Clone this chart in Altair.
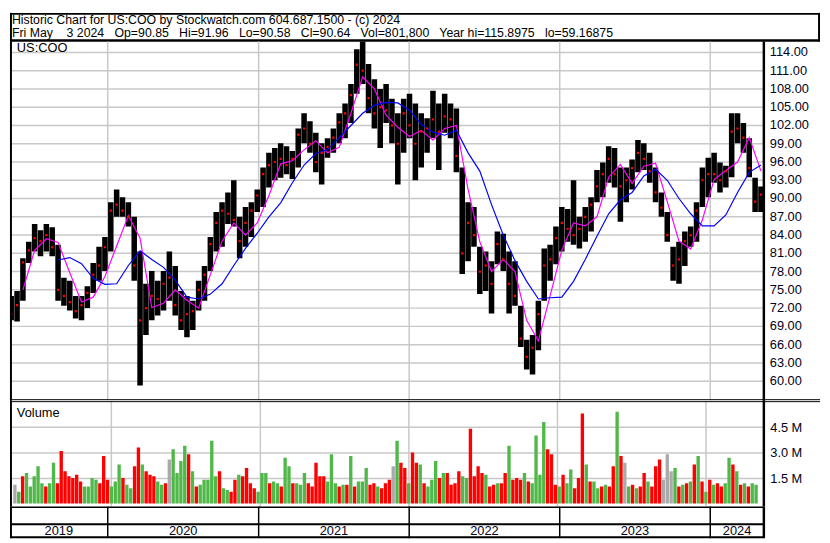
import altair as alt
import pandas as pd

# ---------------- data ----------------
# two-week price ranges, May 2019 .. May 2024
period_high = [
    74.0, 74.8, 80.2, 82.9, 85.8, 84.8, 85.8, 85.3, 82.4, 77.0,
    76.5, 74.0, 74.0, 75.6, 79.4, 82.1, 83.7, 89.4, 91.5, 90.2,
    89.4, 87.0, 81.3, 76.0, 78.1, 76.5, 78.1, 81.3, 78.9, 74.8,
    74.0, 73.2, 76.5, 78.9, 83.7, 87.8, 89.4, 91.0, 93.0, 87.0,
    88.6, 89.4, 91.5, 95.1, 97.5, 98.3, 99.1, 98.6, 97.8, 101.5,
    104.0, 102.7, 100.8, 99.1, 99.9, 101.5, 104.0, 105.6, 108.8, 114.5,
    115.9, 112.1, 109.6, 108.0, 108.8, 106.4, 104.0, 106.4, 107.2, 105.6,
    104.0, 103.2, 107.7, 105.6, 107.2, 105.6, 104.8, 95.1, 89.4, 88.6,
    82.1, 81.3, 79.7, 84.6, 84.2, 81.3, 79.7, 72.4, 66.8, 67.6,
    73.2, 81.8, 82.4, 85.4, 88.6, 88.3, 93.0, 87.0, 88.6, 90.2,
    94.7, 95.9, 98.6, 98.3, 95.1, 95.1, 96.4, 99.6, 99.1, 97.5,
    95.1, 91.0, 87.8, 82.1, 82.9, 84.6, 85.4, 89.4, 95.1, 96.7,
    97.5, 95.9, 95.4, 104.0, 104.0, 102.4, 99.9, 93.4, 91.96]
period_low = [
    70.0, 69.8, 73.2, 79.4, 81.3, 80.5, 81.3, 80.5, 73.2, 72.4,
    71.6, 70.3, 70.0, 72.0, 74.5, 76.5, 78.1, 81.3, 87.0, 87.0,
    85.4, 76.5, 59.3, 67.6, 70.0, 70.8, 71.6, 73.2, 70.8, 68.4,
    67.2, 68.4, 71.6, 73.2, 78.1, 81.3, 82.1, 85.8, 85.4, 80.2,
    82.1, 83.7, 87.8, 88.6, 91.8, 93.0, 93.4, 94.0, 93.2, 95.1,
    99.1, 97.5, 94.3, 92.3, 96.7, 97.5, 99.1, 99.9, 102.4, 107.2,
    108.8, 104.0, 101.5, 98.3, 102.4, 99.1, 92.3, 97.5, 99.9, 93.0,
    95.1, 97.5, 99.9, 94.7, 100.8, 99.9, 94.3, 77.6, 79.7, 82.1,
    74.3, 74.8, 71.1, 79.2, 78.1, 71.1, 72.4, 65.6, 61.9, 61.1,
    65.1, 73.2, 76.5, 79.2, 81.3, 82.9, 82.4, 81.8, 82.9, 84.6,
    89.4, 90.2, 92.6, 91.8, 86.2, 89.4, 91.5, 94.3, 94.7, 92.6,
    89.4, 87.0, 82.9, 76.5, 76.0, 78.9, 82.1, 82.9, 88.6, 90.2,
    92.6, 91.0, 91.8, 93.5, 99.1, 97.5, 93.5, 87.8, 87.8]
period_close = [
    71.0, 72.5, 79.5, 81.5, 83.5, 83.0, 84.0, 82.0, 75.0, 74.0,
    73.0, 71.5, 72.5, 74.5, 77.5, 79.0, 82.0, 88.0, 89.0, 88.0,
    87.0, 79.0, 70.0, 72.0, 74.0, 73.5, 76.0, 77.0, 72.5, 70.0,
    71.0, 71.5, 75.0, 77.5, 82.5, 86.0, 88.0, 87.5, 86.5, 83.0,
    86.0, 88.0, 90.5, 94.0, 95.5, 96.0, 96.5, 95.5, 96.5, 100.5,
    101.5, 99.0, 96.0, 97.5, 98.5, 100.0, 102.5, 104.0, 107.0, 112.0,
    111.0, 106.5, 104.0, 105.0, 104.5, 102.0, 99.0, 104.0, 102.0, 99.0,
    101.0, 101.5, 103.0, 101.0, 103.5, 103.0, 97.0, 81.0, 86.0, 84.0,
    78.0, 79.0, 76.0, 82.5, 80.0, 76.0, 74.0, 67.0, 64.0, 65.5,
    71.0, 79.0, 80.0, 83.5, 86.0, 85.0, 84.0, 85.0, 87.0, 89.0,
    92.0, 94.0, 96.5, 94.0, 92.0, 93.0, 95.0, 97.5, 96.5, 94.5,
    91.0, 88.5, 84.0, 79.0, 80.0, 83.0, 84.0, 88.0, 93.0, 94.0,
    94.0, 93.0, 94.5, 101.0, 101.5, 100.0, 95.0, 89.5, 90.64]
# moving averages, read every fourth week
fast_ma = [
    None, 75.0, 81.5, 83.4, 82.8, 77.8, 73.0, 73.8, 77.2, 82.2,
    87.2, 83.5, 72.1, 72.8, 75.0, 73.3, 72.0, 77.5, 83.0, 86.0,
    84.0, 86.0, 90.5, 95.7, 96.2, 98.0, 99.5, 97.5, 98.4, 104.0,
    110.0, 108.0, 103.7, 101.7, 100.2, 101.2, 99.6, 101.5, 102.0, 91.5,
    82.9, 78.0, 80.0, 78.0, 70.0, 66.6, 74.0, 81.5, 86.0, 85.5,
    87.0, 93.5, 95.6, 92.5, 95.3, 95.8, 89.5, 83.0, 81.7, 86.5,
    93.1, 94.6, 96.0, 100.0, 94.5]
slow_ma = [
    None, None, None, None, 79.9, 80.3, 79.3, 76.9, 75.9, 76.0,
    79.0, 81.4, 80.0, 78.7, 76.6, 73.8, 73.5, 74.3, 76.0, 79.0,
    81.8, 84.3, 87.0, 89.3, 92.6, 95.5, 97.4, 98.0, 100.0, 102.0,
    104.0, 105.3, 105.8, 105.7, 104.5, 102.2, 100.9, 100.4, 101.2, 97.5,
    94.5, 89.0, 84.0, 79.8, 76.4, 73.5, 73.7, 73.8, 76.4, 80.0,
    83.8, 87.5, 89.8, 91.0, 93.7, 94.8, 93.0, 90.0, 87.5, 85.5,
    85.5, 87.3, 91.0, 94.3, 95.5]
# volume in millions of shares
volume_m = [
    1.1, 0.7, 1.6, 1.8, 1.0, 1.6, 2.2, 1.2, 1.0, 1.2,
    2.4, 1.2, 3.1, 1.9, 1.6, 1.5, 1.7, 1.3, 1.0, 1.0,
    1.5, 1.4, 1.2, 2.8, 1.4, 1.0, 1.3, 2.3, 1.5, 1.1,
    0.9, 2.2, 3.3, 2.3, 1.9, 1.7, 1.6, 1.3, 1.1, 1.2,
    2.6, 3.2, 1.8, 2.5, 3.4, 2.9, 1.9, 1.0, 1.1, 1.4,
    1.4, 3.7, 1.6, 1.9, 0.9, 0.8, 0.7, 1.4, 1.7, 1.6,
    2.1, 1.2, 0.9, 0.7, 1.8, 1.8, 1.2, 1.3, 1.2, 1.0,
    2.7, 2.2, 1.2, 1.2, 1.1, 1.8, 1.2, 1.0, 2.4, 1.6,
    1.6, 1.3, 2.9, 1.2, 1.0, 1.1, 1.1, 2.8, 1.0, 1.3,
    1.3, 2.1, 1.1, 1.2, 1.0, 0.9, 1.2, 1.4, 2.2, 3.7,
    2.4, 2.1, 1.2, 3.0, 2.4, 2.3, 1.2, 1.0, 1.4, 2.5,
    1.5, 1.8, 1.8, 1.1, 1.2, 1.9, 1.6, 1.5, 4.4, 1.6,
    2.2, 1.8, 1.7, 1.0, 1.1, 1.2, 1.2, 1.8, 3.4, 1.4,
    1.5, 1.4, 1.8, 1.3, 1.2, 4.0, 1.7, 4.8, 3.2, 2.9,
    1.1, 1.0, 1.7, 1.2, 2.0, 0.9, 1.5, 5.3, 2.3, 1.3,
    1.3, 0.9, 1.0, 1.1, 1.0, 2.2, 5.4, 2.8, 2.4, 1.0,
    1.1, 0.9, 1.0, 1.8, 1.3, 1.0, 2.2, 2.6, 1.4, 2.9,
    1.9, 2.1, 1.0, 1.1, 1.2, 1.3, 2.3, 2.8, 1.3, 0.7,
    1.4, 1.1, 1.2, 1.0, 1.2, 2.7, 2.3, 1.9, 1.1, 1.2,
    1.0, 1.2, 1.1]
# g = up day, r = down day, n = unchanged
volume_dir = list(
    "ngrgggggrg" "grrrrrrrgg" "ggrrrgggrg" "grrgrrrggr" "nggggrgrgg"
    "gggrggrrgr" "rrrgggrggr" "ggrgggrrrr" "rgggrgrgrg" "ggrrgrrrng"
    "rrgrrgrggg" "rgrrrrggrr" "rrgrrgrrgr" "rrgrggggrr" "rgrggrrrgr"
    "ggrgrrgrng" "rgrrgrrrnn" "ngrgrgrgrg" "rgrrggrgrg" "rgg")
year_starts = [2020, 2021, 2022, 2023, 2024]
price_ticks = [60, 63, 66, 69, 72, 75, 78, 81, 84, 87, 90, 93, 96, 99,
               102, 105, 108, 111, 114]
volume_ticks = [1.5, 3.0, 4.5]
NB = "\u00a0"
header_line1 = "Historic Chart for US:COO by Stockwatch.com 604.687.1500 - (c) 2024"
header_line2 = (f"Fri May{NB*3} 3 2024{NB*2} Op=90.85{NB*2} Hi=91.96{NB*2} Lo=90.58{NB*2} "
                f"Cl=90.64{NB*2} Vol=801,800{NB*2} Year hi=115.8975{NB*2} lo=59.16875")

# ---------------- frames ----------------
dates = pd.date_range("2019-05-12", "2024-05-03", periods=len(period_high))
price_df = pd.DataFrame({"date": dates, "high": period_high,
                         "low": period_low, "close": period_close})
ma_df = pd.DataFrame({"date": dates[::2], "fast": fast_ma, "slow": slow_ma})
vol_df = pd.DataFrame({"date": pd.date_range("2019-05-09", "2024-05-03",
                                             periods=len(volume_m)),
                       "vol": volume_m, "dir": volume_dir})
START = pd.Timestamp("2019-05-09")
END = pd.Timestamp("2024-05-10")
bounds = [START] + [pd.Timestamp(f"{y}-01-01") for y in year_starts] + [END]
year_df = pd.DataFrame({"date": [pd.Timestamp(f"{y}-01-01") for y in year_starts]})
label_df = pd.DataFrame({
    "date": [bounds[i] + (bounds[i + 1] - bounds[i]) / 2 for i in range(len(bounds) - 1)],
    "label": [str(y) for y in [2019] + year_starts]})
tick_df = pd.DataFrame({"p": price_ticks, "txt": [f"{v:.2f}" for v in price_ticks]})
one = pd.DataFrame({"a": [0]})

# ---------------- style ----------------
FONT = "Liberation Sans"
GRID = "#c8c8c8"
LABEL = "#000022"
W = 765
W_ALL = 822
H_HEAD, H_PRICE, H_VOL, H_BAND = 29, 364, 108, 32
x_scale = alt.Scale(domain=[alt.DateTime(year=2019, month=5, date=9),
                            alt.DateTime(year=2024, month=5, date=10)])
xenc = alt.X("date:T", scale=x_scale, axis=None)


def hline(y, x1, x2, w=2, color="black"):
    return alt.Chart(one).mark_rule(color=color, strokeWidth=w).encode(
        x=alt.value(x1), x2=alt.value(x2), y=alt.value(y))


def vline(x, y1, y2, w=2, color="black"):
    return alt.Chart(one).mark_rule(color=color, strokeWidth=w).encode(
        x=alt.value(x), y=alt.value(y1), y2=alt.value(y2))


def label(text, x, y, size=13, color="black"):
    return alt.Chart(pd.DataFrame({"t": [text]})).mark_text(
        align="left", baseline="alphabetic", font=FONT, fontSize=size, color=color
    ).encode(x=alt.value(x), y=alt.value(y), text="t:N")


# ---------------- header ----------------
header = alt.layer(
    label(header_line1, 2, 11.5, 12.5), label(header_line2, 2, 24.5, 12.5),
    hline(1, 0, W_ALL), vline(1, 0, H_HEAD), vline(W_ALL - 1, 0, H_HEAD),
    hline(H_HEAD - 1, 0, W_ALL, 2.5),
).properties(width=W_ALL, height=H_HEAD)

# ---------------- price panel ----------------
price_scale = alt.Scale(domain=[56.88, 115.80], nice=False, zero=False)
p_years = alt.Chart(year_df).mark_rule(color=GRID, strokeWidth=1.5).encode(x=xenc)
p_grid = alt.Chart(tick_df).mark_rule(color=GRID, strokeWidth=1.5).encode(
    y=alt.Y("p:Q", scale=price_scale, axis=None), x=alt.value(0), x2=alt.value(W))
p_ticklabels = alt.Chart(tick_df).mark_text(
    align="left", baseline="middle", font=FONT, fontSize=13, color=LABEL
).encode(y=alt.Y("p:Q", scale=price_scale, axis=None), x=alt.value(W + 6), text="txt:N")
p_bars = alt.Chart(price_df).mark_rule(color="black", strokeWidth=5.6, clip=True).encode(
    x=xenc, y=alt.Y("low:Q", scale=price_scale, axis=None), y2="high:Q")
p_close = alt.Chart(price_df).mark_square(color="#ff0000", size=5, opacity=1, clip=True).encode(
    x=xenc, y=alt.Y("close:Q", scale=price_scale, axis=None))
p_fast = alt.Chart(ma_df).mark_line(color="#ff00ff", strokeWidth=1.2, clip=True).encode(
    x=xenc, y=alt.Y("fast:Q", scale=price_scale, axis=None))
p_slow = alt.Chart(ma_df).mark_line(color="#0000ff", strokeWidth=1.2, clip=True).encode(
    x=xenc, y=alt.Y("slow:Q", scale=price_scale, axis=None))
price = alt.layer(
    p_grid, p_years, p_bars, p_fast, p_slow, p_close, p_ticklabels, label("US:COO", 7, 10.5),
    vline(1, 0, H_PRICE), vline(W, 0, H_PRICE, 2.5),
    hline(H_PRICE - 0.5, 0, W_ALL, 1),
).properties(width=W, height=H_PRICE)

# ---------------- volume panel ----------------
vol_scale = alt.Scale(domain=[-0.18, 6.087], nice=False, zero=False)
v_years = alt.Chart(year_df).mark_rule(color=GRID, strokeWidth=1.5).encode(x=xenc)
v_bars = alt.Chart(vol_df).mark_bar(size=3.4, clip=True).encode(
    x=xenc,
    y=alt.Y("vol:Q", scale=vol_scale,
            axis=alt.Axis(orient="right", values=volume_ticks, grid=True,
                          labelExpr="format(datum.value, '.1f') + ' M'",
                          gridColor=GRID, gridWidth=1.5, domain=False, ticks=False,
                          labelOverlap=False, labelPadding=6, labelFont=FONT,
                          labelFontSize=13, labelColor=LABEL, title=None)),
    y2=alt.value(H_VOL),
    color=alt.Color("dir:N", legend=None,
                    scale=alt.Scale(domain=["g", "r", "n"],
                                    range=["#50b848", "#ff0000", "#aaaaaa"])))
volume = alt.layer(
    v_years, v_bars, label("Volume", 7, 17),
    vline(1, 0, H_VOL), vline(W, 0, H_VOL, 2.5),
    hline(1.5, 0, W_ALL, 1),
).properties(width=W, height=H_VOL)

# ---------------- year band ----------------
b_years = alt.Chart(year_df).mark_rule(color="black", strokeWidth=1.5).encode(
    x=xenc, y=alt.value(0), y2=alt.value(H_BAND))
b_labels = alt.Chart(label_df).mark_text(
    font=FONT, fontSize=13, color=LABEL, baseline="middle", align="center"
).encode(x=xenc, y=alt.value(25), text="label:N")
band = alt.layer(
    b_years, b_labels,
    hline(0.75, 0, W, 1.5), hline(18, 0, W, 2), hline(H_BAND - 1, 0, W, 2),
    vline(1, 0, H_BAND), vline(W, 0, H_BAND, 2.5),
).properties(width=W, height=H_BAND)

chart = alt.vconcat(header, price, volume, band, spacing=0, bounds="flush").configure_view(
    stroke=None).properties(padding=0)

chart.save("out.html", embed_options={"renderer": "svg", "actions": False})
